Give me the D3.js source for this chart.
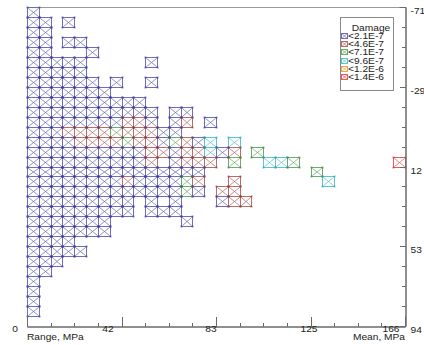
<!DOCTYPE html>
<html>
<head>
<meta charset="utf-8">
<script src="https://cdn.jsdelivr.net/npm/d3@7"></script>
<style>
  body { margin: 0; background: #fff; }
  text { font-family: "Liberation Sans", Arial, sans-serif; fill: #222; }
</style>
</head>
<body>
<div class="rf-holder"></div>
<script>
// damage classes (legend)
var damageLevels = ["<2.1E-7", "<4.6E-7", "<7.1E-7", "<9.6E-7", "<1.2E-6", "<1.4E-6"];
var damageColors = ["#6e6eba", "#b86c6c", "#6cac6c", "#5cc6ce", "#e8aa52", "#ee5c5c"];
var dotColors = ["#3a3a9c", "#8e3c3c", "#3a823a", "#2ea2aa", "#c08020", "#c83030"];

// axes
var rangeTicks = [0, 41.5, 83, 124.5, 166];
var rangeLabels = ["0", "42", "83", "125", "166"];
var meanTicks = [-71, -29.75, 11.5, 52.75, 94];
var meanLabels = ["-71", "-29", "12", "53", "94"];
var nBins = 32;

// rainflow matrix: one string per mean bin (top = -71), one char per range bin
// "1".."6" = damage class, "." = no cycles
var damageRows = [
  "1",
  "11.1",
  "11",
  "11.11",
  "11...1",
  "11111.....1",
  "11111",
  "111111.1..1",
  "1111111",
  "1111111111",
  "11111111111.11",
  "11111111221.12.1",
  "1112222322211",
  "1111222232213214.4",
  "111111111122122412.3",
  "11111111112.1222.3..443........6",
  "111111111111111.........3",
  "111111112111132..2.......4",
  "111111111111131.22",
  "111111111.1.1...122",
  "111111111.111",
  "1111111......1",
  "1111111",
  "1111",
  "11111",
  "111",
  "11",
  "1",
  "1",
  "1",
  "1",
  ""
];

var W = 424, H = 345;
var svg = d3.select(".rf-holder").append("svg")
    .attr("width", W).attr("height", H);

var x = d3.scaleLinear().domain([0, 166]).range([27, 405]);
var y = d3.scaleLinear().domain([-71, 94]).range([7, 326]);
var binW = 166 / nBins, binH = 165 / nBins;

var cells = [];
damageRows.forEach(function(row, r){
  row.padEnd(nBins, ".").split("").forEach(function(ch, c){
    if (ch !== ".") cells.push({range: c * binW, mean: -71 + r * binH, level: +ch - 1});
  });
});

function px(v){ return Math.round(v) + 0.5; }

/* frame */
var frame = svg.append("g");
frame.append("line").attr("x1", px(x(0))).attr("x2", px(x(166))).attr("y1", px(y(-71))).attr("y2", px(y(-71)))
  .attr("stroke", "#9a9a9a");
frame.append("line").attr("x1", px(x(0))).attr("x2", px(x(0))).attr("y1", px(y(-71))).attr("y2", px(y(94)))
  .attr("stroke", "#9a9a9a");

/* cells */
var cg = svg.append("g").selectAll("g.cell").data(cells).enter().append("g").attr("class", "cell");
cg.each(function(d){
  var s = d3.select(this);
  var x0 = px(x(d.range)), x1 = px(x(d.range + binW));
  var y0 = px(y(d.mean)), y1 = px(y(d.mean + binH));
  var col = damageColors[d.level];
  s.append("rect").attr("x", x0).attr("y", y0).attr("width", x1 - x0).attr("height", y1 - y0)
    .attr("fill", "none").attr("stroke", col).attr("stroke-width", 1);
  s.append("line").attr("x1", x0 + 1).attr("y1", y0 + 1).attr("x2", x1 - 1).attr("y2", y1 - 1)
    .attr("stroke", col).attr("stroke-width", 0.75);
  s.append("line").attr("x1", x0 + 1).attr("y1", y1 - 1).attr("x2", x1 - 1).attr("y2", y0 + 1)
    .attr("stroke", col).attr("stroke-width", 0.75);
});
// darker vertices
var dots = svg.append("g");
cells.forEach(function(d){
  var xs = [x(d.range), x(d.range + binW)], ys = [y(d.mean), y(d.mean + binH)];
  xs.forEach(function(a){ ys.forEach(function(b){
    dots.append("rect").attr("x", Math.round(a) - 0.5).attr("y", Math.round(b) - 0.5)
      .attr("width", 2).attr("height", 2).attr("fill", dotColors[d.level]).attr("opacity", 0.6);
  }); });
});

/* bottom axis: ticks pointing up */
var minorX = d3.range(2, nBins, 2).map(function(i){ return i * binW; });
var ax1 = svg.append("g").attr("transform", "translate(0," + px(y(94)) + ")")
  .call(d3.axisBottom(x).tickValues(minorX).tickSize(-4).tickFormat(""));
var ax2 = svg.append("g").attr("transform", "translate(0," + px(y(94)) + ")")
  .call(d3.axisBottom(x).tickValues(rangeTicks.slice(1, 4)).tickSize(-10).tickFormat(""));

/* right axis: ticks pointing left */
var minorY = d3.range(2, nBins, 2).map(function(i){ return -71 + i * binH; });
var ay1 = svg.append("g").attr("transform", "translate(" + px(x(166)) + ",0)")
  .call(d3.axisRight(y).tickValues(minorY).tickSize(-4).tickFormat(""));
var ay2 = svg.append("g").attr("transform", "translate(" + px(x(166)) + ",0)")
  .call(d3.axisRight(y).tickValues(meanTicks.slice(1, 4)).tickSize(-6).tickFormat(""));

[ax1, ax2, ay1, ay2].forEach(function(a){
  a.selectAll("line").attr("stroke", "#6a6a6a");
  a.select(".domain").attr("stroke", "#6a6a6a");
  a.selectAll(".tick").each(function(){
    var t = d3.select(this);
    var m = /translate\(([-\d.]+),([-\d.]+)\)/.exec(t.attr("transform"));
    t.attr("transform", "translate(" + px(+m[1] - 0.5) + "," + px(+m[2] - 0.5) + ")");
  });
});

/* text helper: text is drawn a little wide, like in the original */
var fs = 8.5, sx = 1.2;
function label(xp, yp, str, anchor){
  return svg.append("text").attr("transform", "translate(" + xp + "," + yp + ") scale(" + sx + ",1)")
    .attr("text-anchor", anchor || "start").style("font-size", fs + "px").text(str);
}

var rangeShift = [-12, -13.5, -5, -1.5, -14];
rangeTicks.forEach(function(v, i){
  label(x(v) + rangeShift[i], 331.5, rangeLabels[i], "middle");
});
meanTicks.forEach(function(v, i){
  label(410.5, y(v) + 7, meanLabels[i]);
});
label(27, 339.5, "Range, MPa");
label(405, 339.5, "Mean, MPa", "end");

/* legend */
var lg = svg.append("g");
lg.append("rect").attr("x", 340.5).attr("y", 17.5).attr("width", 53).attr("height", 73)
  .attr("fill", "white").attr("stroke", "#8a8a8a");
label(371, 31, "Damage", "middle");
damageLevels.forEach(function(t, i){
  var cy = 35.8 + i * 8.33;
  var bx = 341.5, by = Math.round(cy - 3) + 0.5;
  lg.append("rect").attr("x", bx).attr("y", by).attr("width", 6).attr("height", 5)
    .attr("fill", "white").attr("stroke", damageColors[i]);
  lg.append("path").attr("d", "M" + bx + "," + by + "L" + (bx + 6) + "," + (by + 5) +
      "M" + bx + "," + (by + 5) + "L" + (bx + 6) + "," + by)
    .attr("stroke", damageColors[i]).attr("stroke-width", 0.7);
  label(348, cy + 3, t);
});
</script>
</body>
</html>
